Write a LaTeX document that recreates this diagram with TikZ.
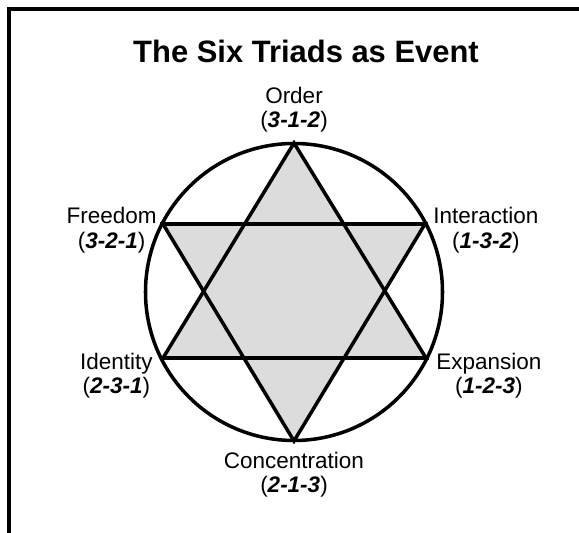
\documentclass[tikz,border=0pt]{standalone}
\usepackage{fontspec}
\setmainfont{Liberation Sans}
\usepackage{xcolor}
\usepackage{tikz}
\usetikzlibrary{positioning, calc}
\definecolor{starGray}{HTML}{DCDCDC}

\newcommand{\triad}[1]{(\textbf{\textit{#1}})}

\begin{document}
\begin{tikzpicture}[
    every node/.style={font=\fontsize{12.8}{13.7}\selectfont},
    lbl/.style={align=center, inner sep=0pt},
    outline/.style={line width=2pt, line join=miter},
    frameline/.style={line width=1.8pt}
]

\useasboundingbox (-5.88,-4.82) rectangle (5.70,5.84);

% frame (left and top edge)
\coordinate (fbl) at (-5.70,-4.90);
\coordinate (ftl) at (-5.70,5.66);
\coordinate (ftr) at (5.80,5.66);
\draw[frameline] (fbl) -- (ftl) -- (ftr);

% star points
\coordinate (top) at (0,2.98);
\coordinate (bot) at (0,-2.98);
\coordinate (ul) at (-2.62,1.36);
\coordinate (ur) at (2.62,1.36);
\coordinate (ll) at (-2.62,-1.32);
\coordinate (lr) at (2.64,-1.32);

\fill[starGray] (top) -- (ll) -- (lr) -- cycle;
\fill[starGray] (ul) -- (ur) -- (bot) -- cycle;
\draw[outline] (0,0) circle (2.97);
\draw[outline] (top) -- (ll) -- (lr) -- cycle;
\draw[outline] (ul) -- (ur) -- (bot) -- cycle;

\node[font=\fontsize{17.6}{20}\selectfont\bfseries, anchor=base] (title) at (0.24,4.58) {The Six Triads as Event};

\node[lbl, above=0.2cm of top] (order) {Order\\\triad{3-1-2}};
\node[lbl, right=0.16cm of ur, yshift=-3.5pt] (interaction) {Interaction\\\triad{1-3-2}};
\node[lbl, left=0.12cm of ul, yshift=-3.5pt] (freedom) {Freedom\\\triad{3-2-1}};
\node[lbl, right=0.2cm of lr, yshift=-10pt] (expansion) {Expansion\\\triad{1-2-3}};
\node[lbl, left=0.2cm of ll, yshift=-10pt] (identity) {Identity\\\triad{2-3-1}};
\node[lbl, below=0.22cm of bot] (concentration) {Concentration\\\triad{2-1-3}};

\end{tikzpicture}
\end{document}
